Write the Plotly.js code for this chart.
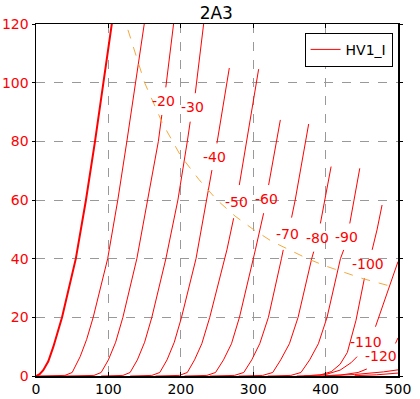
<!DOCTYPE html>
<html>
<head>
<meta charset="utf-8">
<script src="https://cdn.plot.ly/plotly-3.0.1.min.js"></script>
<style>html,body{margin:0;padding:0;background:#fff;}#chart{width:420px;height:399px;}</style>
</head>
<body>
<div id="chart"></div>
<script>
// Grid voltage of each plate curve (V)
const gridLevels = [0, -10, -20, -30, -40, -50, -60, -70, -80, -90, -100, -110, -120, -130, -140];

// Plate voltage (V) / plate current (mA); null = label gap
const va_0    = [0, 5, 10, 17, 24, 36, 55, 69, 81.5, 93, 104.7, 107];
const ia_0    = [0, 0.6, 2, 5, 10, 20, 40, 60, 80, 100, 120, 124];
const va_m10  = [0, 20, 40, 50, 61, 70, 79, 99, 113, 125.5, 138, 149.5, 151];
const ia_m10  = [0, 0, 0.2, 1.2, 6.6, 12.5, 20, 40, 60, 80, 100, 120, 124];
const va_m20  = [40, 80, 90, 100, 110, 120, 139.3, 154.5, 169, 173.8, null, 179.3, 190.9, 192];
const ia_m20  = [0, 0.2, 1.2, 5.5, 11.5, 20, 40, 60, 80, 89, null, 98.4, 120, 124];
const va_m30  = [90, 120, 130, 140, 150, 160, 179.4, 196, 209, 213, null, 220, 232.4, 233.5];
const ia_m30  = [0, 0.2, 1.2, 5.5, 11.5, 20, 40, 60, 80, 86.7, null, 96.4, 120, 124];
const va_m40  = [130, 160, 171, 181, 191, 201, 221, 235, 243, null, 249.9, 263.4, 267];
const ia_m40  = [0, 0.2, 1.2, 5.5, 11.5, 20, 40, 60, 70.2, null, 79.3, 100, 105];
const va_m50  = [165, 198, 209, 219, 229, 240, 263.7, 273, null, 280.8, 293.7, 307.5];
const ia_m50  = [0, 0.2, 1.2, 5.5, 11, 20, 43, 53.8, null, 65.1, 83.9, 104.6];
const va_m60  = [205, 236, 248, 259, 270, 281, 303, 314.4, null, 321.3, 335, 337.5];
const ia_m60  = [0, 0.2, 1.2, 5.5, 11, 20, 43, 55.5, null, 65.1, 83.9, 87.3];
const va_m70  = [240, 274, 287, 298, 309, 321, 339, 341.5, null, 353, 358, 376.6];
const ia_m70  = [0, 0.2, 1.2, 5.5, 11, 20, 40, 43, null, 54, 60, 85.9];
const va_m80  = [280, 313, 327, 338, 350, 362, 380.8, 383.6, null, 392.8, 398.9, 407.6];
const ia_m80  = [0, 0.2, 1.2, 5.5, 11, 20, 40, 42.4, null, 52, 60, 71.4];
const va_m90  = [320, 352, 366, 378, 390, 402, 420.5, 425, null, 433.4, 439.3, 447.2];
const ia_m90  = [0, 0.2, 1.2, 5.5, 11, 20, 40, 43, null, 52, 60, 70.8];
const va_m100 = [360, 392, 408, 420, 430, 442, 453.6, null, 464.3, 471, 478];
const ia_m100 = [0, 0.3, 1.5, 4, 8, 19, 33.3, null, 43, 49.8, 58.3];
const va_m110 = [370, 400, 420, 435, 443.5, null, 468.9, 485, 500];
const ia_m110 = [0, 0.5, 2, 4.5, 6.6, null, 16.8, 28, 39];
const va_m120 = [390, 420, 445, 457, null, 496.5, 500];
const ia_m120 = [0, 0.3, 1.2, 2.4, null, 11.1, 13];
const va_m130 = [400, 440, 480, 500];
const ia_m130 = [0.1, 0.5, 1.4, 2.1];
const va_m140 = [440, 470, 500];
const ia_m140 = [0.1, 0.4, 1];

// 15 W dissipation line
const pd_va = [127, 150, 175, 200, 225, 250, 275, 300, 325, 350, 375, 400, 425, 450, 475, 490];
const pd_ia = [118, 100, 86, 75, 67, 60, 54.5, 50, 46, 43, 40, 37.5, 35.3, 33.3, 31.6, 30.6];

const xTicks = [0, 100, 200, 300, 400, 500];
const yTicks = [0, 20, 40, 60, 80, 100, 120];

const curvesX = [va_0, va_m10, va_m20, va_m30, va_m40, va_m50, va_m60, va_m70, va_m80, va_m90, va_m100, va_m110, va_m120, va_m130, va_m140];
const curvesY = [ia_0, ia_m10, ia_m20, ia_m30, ia_m40, ia_m50, ia_m60, ia_m70, ia_m80, ia_m90, ia_m100, ia_m110, ia_m120, ia_m130, ia_m140];

const RED = '#ff0000';
const FONT = 'DejaVu Sans, Liberation Sans, sans-serif';

const traces = [];
const annotations = [];
curvesX.forEach((xs, i) => {
  traces.push({
    type: 'scatter', mode: 'lines', x: xs, y: curvesY[i],
    line: {color: RED, width: i === 0 ? 2 : 1},
    connectgaps: false,
    name: 'HV1_I',
    showlegend: i === 1,
    hoverinfo: 'skip'
  });
  const g = xs.indexOf(null);
  if (g > 0) {
    const ys = curvesY[i];
    annotations.push({
      x: (xs[g - 1] + xs[g + 1]) / 2,
      y: (ys[g - 1] + ys[g + 1]) / 2,
      text: String(gridLevels[i]),
      showarrow: false,
      xanchor: 'center', yanchor: 'middle',
      font: {family: FONT, size: 14, color: RED}
    });
  }
});
traces.push({
  type: 'scatter', mode: 'lines', x: pd_va, y: pd_ia,
  line: {color: '#f5a83c', width: 1, dash: 'dash'},
  showlegend: false, hoverinfo: 'skip'
});

const layout = {
  width: 420, height: 399,
  margin: {l: 36, r: 22, t: 24, b: 23},
  paper_bgcolor: '#fff', plot_bgcolor: '#fff',
  font: {family: FONT, size: 13, color: '#000'},
  title: {text: '2A3', font: {family: FONT, size: 17, color: '#000'}, x: 0.515, xanchor: 'center', y: 0.968, yanchor: 'middle'},
  xaxis: {
    range: [0, 500], tickvals: xTicks, ticktext: xTicks.map(String),
    showgrid: true, gridcolor: '#999', griddash: 'dash', gridwidth: 1,
    zeroline: false, showline: true, linecolor: '#000', linewidth: 1.5, mirror: 'ticks',
    ticks: 'inside', ticklen: 4, tickcolor: '#000',
    tickfont: {family: FONT, size: 14, color: '#000'}
  },
  yaxis: {
    range: [0, 120], tickvals: yTicks, ticktext: yTicks.map(String),
    showgrid: true, gridcolor: '#999', griddash: 'dash', gridwidth: 1,
    zeroline: false, showline: true, linecolor: '#000', linewidth: 1.5, mirror: 'ticks',
    ticks: 'outside', ticklen: 3, tickcolor: '#000',
    tickfont: {family: FONT, size: 14, color: RED}
  },
  legend: {
    x: 0.985, y: 0.975, xanchor: 'right', yanchor: 'top',
    bgcolor: '#fff', bordercolor: '#000', borderwidth: 1,
    font: {family: FONT, size: 14, color: '#000'}, itemwidth: 30
  },
  annotations: annotations
};

Plotly.newPlot('chart', traces, layout, {staticPlot: true, displayModeBar: false});
</script>
</body>
</html>
